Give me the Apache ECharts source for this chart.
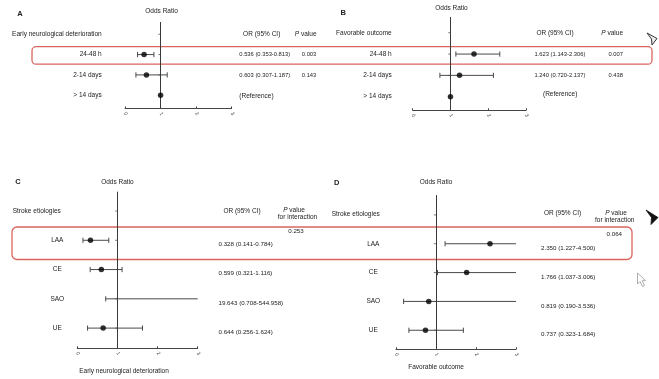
<!DOCTYPE html>
<html><head><meta charset="utf-8">
<script src="https://cdn.jsdelivr.net/npm/echarts@6/dist/echarts.min.js"></script>
<style>html,body{margin:0;padding:0;background:#fff}#c{width:659px;height:379px}</style>
</head><body><div id="c"></div>
<script>
// ---- data ----
const xTickLabels = ['0', '1', '2', '3'];

const aHeader = 'Early neurological deterioration';
const aRows = ['24-48 h', '2-14 days', '> 14 days'];
const aOR = [0.536, 0.603, 1];
const aLo = [0.353, 0.307, null];
const aHi = [0.813, 1.187, null];
const aP = ['0.003', '0.143', ''];

const bHeader = 'Favorable outcome';
const bRows = ['24-48 h', '2-14 days', '> 14 days'];
const bOR = [1.623, 1.240, 1];
const bLo = [1.143, 0.720, null];
const bHi = [2.306, 2.137, null];
const bP = ['0.007', '0.438', ''];

const cHeader = 'Stroke etiologies';
const cRows = ['LAA', 'CE', 'SAO', 'UE'];
const cOR = [0.328, 0.599, 19.643, 0.644];
const cLo = [0.141, 0.321, 0.708, 0.256];
const cHi = [0.784, 1.116, 544.958, 1.624];
const cPInteraction = '0.253';
const cXTitle = 'Early neurological deterioration';

const dHeader = 'Stroke etiologies';
const dRows = ['LAA', 'CE', 'SAO', 'UE'];
const dOR = [2.350, 1.766, 0.819, 0.737];
const dLo = [1.227, 1.037, 0.190, 0.323];
const dHi = [4.500, 3.006, 3.536, 1.684];
const dPInteraction = '0.064';
const dXTitle = 'Favorable outcome';

// ---- build ----
const XMIN = 0, XMAX = 3;
const FONT = 'Liberation Sans';
const FS = 6.5;
const TXT = '#222';
const chart = echarts.init(document.getElementById('c'), null, {renderer: 'canvas'});

const grids = [
  {left: 125, width: 106.7, top: 22, height: 86.5, ymin: -0.6, ymax: 3.65},
  {left: 412.7, width: 113.3, top: 17, height: 93.3, ymin: -0.74, ymax: 3.64},
  {left: 77.3, width: 120.4, top: 191.7, height: 156.6, ymin: -0.66, ymax: 4.69},
  {left: 396, width: 120, top: 195, height: 154.3, ymin: -0.69, ymax: 4.66}
];

function errRender(params, api) {
  const row = api.value(0), lo = api.value(1), hi = api.value(2);
  const p1 = api.coord([Math.max(lo, XMIN), row]);
  const p2 = api.coord([Math.min(hi, XMAX), row]);
  const cap = 2.6;
  const st = {stroke: '#4a4a4a', lineWidth: 1};
  const ch = [{type: 'line', shape: {x1: p1[0], y1: p1[1], x2: p2[0], y2: p2[1]}, style: st}];
  if (lo >= XMIN) ch.push({type: 'line', shape: {x1: p1[0], y1: p1[1] - cap, x2: p1[0], y2: p1[1] + cap}, style: st});
  if (hi <= XMAX) ch.push({type: 'line', shape: {x1: p2[0], y1: p2[1] - cap, x2: p2[0], y2: p2[1] + cap}, style: st});
  return {type: 'group', children: ch};
}
function tickRender(params, api) {
  const p = api.coord([api.value(0), api.value(1)]);
  return {type: 'line', shape: {x1: p[0] - 2.2, y1: p[1], x2: p[0], y2: p[1]}, style: {stroke: '#555', lineWidth: 0.8}};
}

const panels = [
  {or: aOR, lo: aLo, hi: aHi, n: aRows.length},
  {or: bOR, lo: bLo, hi: bHi, n: bRows.length},
  {or: cOR, lo: cLo, hi: cHi, n: cRows.length},
  {or: dOR, lo: dLo, hi: dHi, n: dRows.length}
];

const option = {
  animation: false,
  grid: grids.map(g => ({left: g.left, width: g.width, top: g.top, height: g.height})),
  xAxis: grids.map((g, i) => ({
    type: 'value', gridIndex: i, min: XMIN, max: XMAX, interval: 1, position: 'bottom',
    axisLine: {show: true, onZero: false, lineStyle: {color: '#444', width: 1}},
    axisTick: {show: true, inside: true, length: 2, lineStyle: {color: '#444'}},
    axisLabel: {fontSize: 5, color: '#444', rotate: -60, margin: 4, fontFamily: FONT,
      formatter: v => xTickLabels[Math.round(v)]},
    splitLine: {show: false}
  })),
  yAxis: grids.map((g, i) => ({
    type: 'value', gridIndex: i, inverse: true, min: g.ymin, max: g.ymax, show: false
  })),
  series: []
};

panels.forEach((p, i) => {
  const err = [], pts = [], ticks = [[1, 0]];
  for (let k = 0; k < p.n; k++) {
    const row = k + 1;
    ticks.push([1, row]);
    if (p.lo[k] != null) err.push([row, p.lo[k], p.hi[k]]);
    pts.push([p.or[k], row]);
  }
  option.series.push({
    type: 'custom', xAxisIndex: i, yAxisIndex: i, renderItem: tickRender,
    data: ticks, encode: {x: 0, y: 1}, silent: true, z: 2
  });
  option.series.push({
    type: 'custom', xAxisIndex: i, yAxisIndex: i, renderItem: errRender, clip: true,
    data: err, encode: {x: [1, 2], y: 0}, silent: true, z: 3
  });
  option.series.push({
    type: 'scatter', xAxisIndex: i, yAxisIndex: i, data: pts, clip: true,
    symbol: 'circle', symbolSize: 5.5, itemStyle: {color: '#000'}, z: 5, silent: true,
    markLine: {silent: true, symbol: ['none', 'none'], label: {show: false},
      lineStyle: {color: '#3a3a3a', width: 1, type: 'solid'}, data: [{xAxis: 1}]}
  });
});

chart.setOption(option);

// ---- text via graphic ----
function ry(gi, row) { return chart.convertToPixel({gridIndex: gi}, [1, row])[1]; }
function lx(gi) { return chart.convertToPixel({gridIndex: gi}, [1, 0])[0]; }
const G = [];
function T(text, x, y, align, opts) {
  opts = opts || {};
  G.push({type: 'text', silent: true, z: 10, style: Object.assign({
    text: text, x: x, y: y, align: align, textAlign: align, verticalAlign: 'middle', textVerticalAlign: 'middle',
    fontSize: FS, fontFamily: FONT, fill: TXT
  }, opts)});
}
const pRich = {rich: {i: {fontStyle: 'italic', fontSize: FS, fontFamily: FONT, fill: TXT}}};
const numAB = {fontSize: 5.8};
const numCD = {fontSize: 6.2};
function orText(o, l, h) { return o.toFixed(3) + ' (' + l.toFixed(3) + '-' + h.toFixed(3) + ')'; }

// Panel A
T('A', 20, 14, 'center', {fontWeight: 'bold', fontSize: 7.5});
T('Odds Ratio', lx(0) + 1, 11, 'center');
T(aHeader, 101.7, ry(0, 0), 'right');
T('OR (95% CI)', 261.7, ry(0, 0), 'center');
T('{i|P} value', 316.5, ry(0, 0), 'right', pRich);
aRows.forEach((r, k) => {
  const y = ry(0, k + 1);
  T(r, 101.7, y, 'right');
  if (aLo[k] != null) T(orText(aOR[k], aLo[k], aHi[k]), 239.3, y, 'left', numAB);
  else T('(Reference)', 239.3, y + 1, 'left');
  if (aP[k]) T(aP[k], 316.3, y, 'right', numAB);
});

// Panel B
T('B', 343.3, 13, 'center', {fontWeight: 'bold', fontSize: 7.5});
T('Odds Ratio', lx(1) + 1, 8, 'center');
T(bHeader, 391.7, ry(1, 0), 'right');
T('OR (95% CI)', 555, ry(1, 0), 'center');
T('{i|P} value', 623, ry(1, 0), 'right', pRich);
bRows.forEach((r, k) => {
  const y = ry(1, k + 1);
  T(r, 391.7, y, 'right');
  if (bLo[k] != null) T(orText(bOR[k], bLo[k], bHi[k]), 534.5, y, 'left', numAB);
  else T('(Reference)', 543, y - 2, 'left');
  if (bP[k]) T(bP[k], 623, y, 'right', numAB);
});

// Panel C
T('C', 18, 182, 'center', {fontWeight: 'bold', fontSize: 7.5});
T('Odds Ratio', lx(2), 182.3, 'center');
T(cHeader, 12.7, ry(2, 0), 'left');
T('OR (95% CI)', 242, ry(2, 0) + 0.5, 'center');
T('{i|P} value', 294, ry(2, 0) - 0.5, 'center', pRich);
T('for interaction', 297.5, ry(2, 0) + 6.5, 'center');
T(cPInteraction, 296, ry(2, 1) - 9.3, 'center', numCD);
cRows.forEach((r, k) => {
  const y = ry(2, k + 1);
  T(r, 57.3, y, 'center');
  T(orText(cOR[k], cLo[k], cHi[k]), 218.5, y + 4, 'left', numCD);
});
T(cXTitle, 124, 371, 'center');

// Panel D
T('D', 336.7, 182.7, 'center', {fontWeight: 'bold', fontSize: 7.5});
T('Odds Ratio', lx(3), 182, 'center');
T(dHeader, 331.7, ry(3, 0) - 0.7, 'left');
T('OR (95% CI)', 562.5, ry(3, 0) - 1.5, 'center');
T('{i|P} value', 616, ry(3, 0) - 1.5, 'center', pRich);
T('for interaction', 614.7, ry(3, 0) + 5.8, 'center');
T(dPInteraction, 614.3, ry(3, 1) - 9.7, 'center', numCD);
dRows.forEach((r, k) => {
  const y = ry(3, k + 1);
  T(r, 373.3, y, 'center');
  T(orText(dOR[k], dLo[k], dHi[k]), 541, y + 4.5, 'left', numCD);
});
T(dXTitle, 436, 367.7, 'center');

// highlight boxes (annotation overlay)
G.push({type: 'rect', silent: true, z: 1, shape: {x: 32, y: 46.7, width: 620, height: 17.5, r: 4},
  style: {fill: 'none', stroke: '#d9645e', lineWidth: 1.3}});
G.push({type: 'rect', silent: true, z: 1, shape: {x: 12, y: 227, width: 620, height: 32.5, r: 5},
  style: {fill: 'none', stroke: '#d9645e', lineWidth: 1.3}});
// screen pointer artifacts
G.push({type: 'polygon', silent: true, z: 11, shape: {points: [[647, 33], [657, 38.5], [652, 45], [651.5, 39]]},
  style: {fill: '#eee', stroke: '#333', lineWidth: 1}});
G.push({type: 'polygon', silent: true, z: 11, shape: {points: [[646, 210], [658, 217.5], [651, 224.5], [651.5, 217.5]]},
  style: {fill: '#111', stroke: '#111', lineWidth: 0.8}});
G.push({type: 'polygon', silent: true, z: 11, shape: {points: [[637.5, 273], [637.5, 284], [640, 281.5], [642.5, 286.5], [644.5, 285.5], [642.2, 280.8], [645.5, 280.5]]},
  style: {fill: '#fff', stroke: '#999', lineWidth: 0.8}});

chart.setOption({graphic: {elements: G}});
</script>
</body></html>
